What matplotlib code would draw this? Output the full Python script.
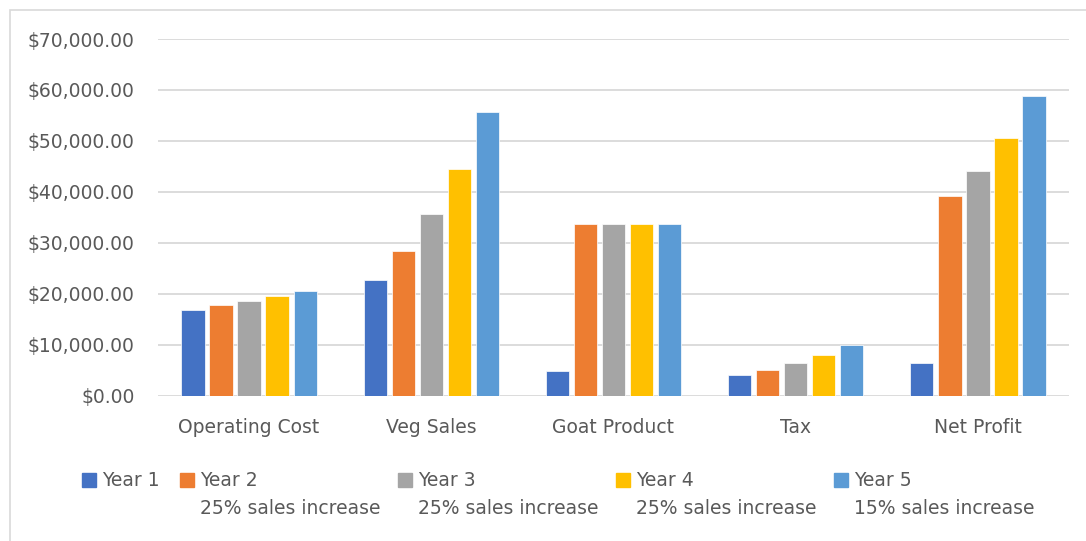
import matplotlib
matplotlib.use('Agg')
import matplotlib.pyplot as plt
from matplotlib.patches import Rectangle
from matplotlib.ticker import FuncFormatter
import numpy as np

categories = ['Operating Cost', 'Veg Sales', 'Goat Product', 'Tax', 'Net Profit']
series_names = ['Year 1', 'Year 2', 'Year 3', 'Year 4', 'Year 5']
series_notes = ['', '25% sales increase', '25% sales increase', '25% sales increase', '15% sales increase']
year1 = [16840, 22730, 4790, 4070, 6420]
year2 = [17760, 28430, 33730, 5050, 39230]
year3 = [18600, 35640, 33730, 6360, 44140]
year4 = [19650, 44400, 33730, 8000, 50570]
year5 = [20630, 55600, 33730, 9960, 58740]
values = [year1, year2, year3, year4, year5]
colors = ['#4472C4', '#ED7D31', '#A5A5A5', '#FFC000', '#5B9BD5']

text_color = '#595959'
grid_color = '#D9D9D9'
fs = 13.5

W, H = 1086, 541
fig = plt.figure(figsize=(W / 100, H / 100), dpi=100)
ax = fig.add_axes([158 / W, (H - 395.7) / H, (1069 - 158) / W, (395.7 - 39) / H])

x = np.arange(len(categories))
step = 0.154
for i, (vals, col) in enumerate(zip(values, colors)):
    ax.bar(x + (i - 2) * step, vals, width=0.128, color=col,
           edgecolor='white', linewidth=0.5, zorder=3)

ax.set_xlim(-0.5, len(categories) - 0.5)
ax.set_ylim(0, 70000)
ax.set_yticks(np.arange(0, 70001, 10000))
ax.yaxis.set_major_formatter(FuncFormatter(lambda v, p: '${:,.2f}'.format(v)))
ax.set_xticks(x)
ax.set_xticklabels(categories)
ax.grid(axis='y', color=grid_color, linewidth=1.3, zorder=0)
for s in ['top', 'right', 'left', 'bottom']:
    ax.spines[s].set_visible(False)
ax.tick_params(axis='both', length=0, labelsize=fs, labelcolor=text_color)
ax.tick_params(axis='y', pad=17)
ax.tick_params(axis='x', pad=16)

# outer chart border
fig.add_artist(Rectangle((9.5 / W, -0.1), 1.2, (H - 10) / H + 0.1,
                         transform=fig.transFigure, fill=False,
                         edgecolor=grid_color, linewidth=1.2))

# legend drawn by hand (two-line labels, handle next to first line)
legend_x = [82, 180, 398, 616, 834]
for lx, name, note, col in zip(legend_x, series_names, series_notes, colors):
    fig.add_artist(Rectangle((lx / W, (H - 487) / H), 14 / W, 14 / H,
                             transform=fig.transFigure, color=col))
    fig.text((lx + 20) / W, (H - 480) / H, name, fontsize=fs,
             color=text_color, va='center', ha='left')
    if note:
        fig.text((lx + 20) / W, (H - 509) / H, note, fontsize=fs,
                 color=text_color, va='center', ha='left')

fig.savefig('out.png', dpi=100, facecolor='white')
